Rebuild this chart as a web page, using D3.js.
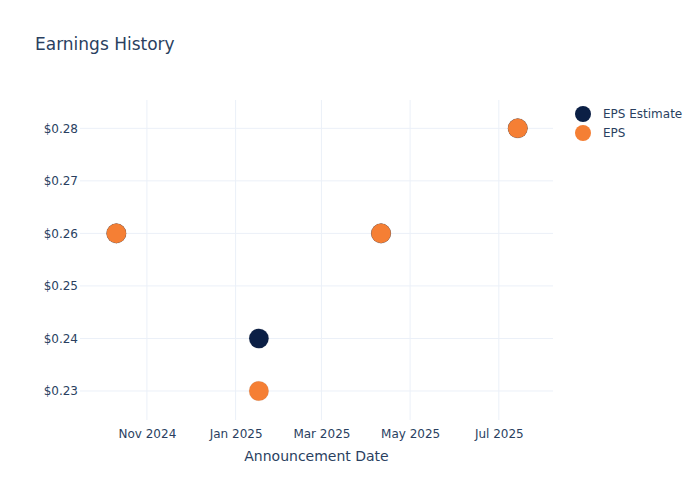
<!DOCTYPE html>
<html>
<head>
<meta charset="utf-8">
<script src="https://cdn.jsdelivr.net/npm/d3@7"></script>
<style>
  html, body { margin: 0; padding: 0; background: #fff; }
  svg { display: block; font-family: "DejaVu Sans", "Open Sans", sans-serif; }
</style>
</head>
<body>
<svg id="chart" width="700" height="500"></svg>
<script>
const dates = ["2024-10-11", "2025-01-17", "2025-04-11", "2025-07-14"];
const epsEstimate = [0.26, 0.24, 0.26, 0.28];
const epsActual = [0.26, 0.23, 0.26, 0.28];
const yTicks = [0.23, 0.24, 0.25, 0.26, 0.27, 0.28];
const xTicks = ["2024-11-01", "2025-01-01", "2025-03-01", "2025-05-01", "2025-07-01"];
const seriesNames = ["EPS Estimate", "EPS"];
const seriesColors = ["#0b1f45", "#f57f34"];

const W = 700, H = 500;
const m = { l: 80, r: 147, t: 100, b: 80 };
const svg = d3.select("#chart");
const textColor = "#2a3f5f";
const gridColor = "#ebf0f8";

const parse = d3.utcParse("%Y-%m-%d");
const x = d3.scaleUtc()
  .domain([parse("2024-09-16"), new Date(Date.UTC(2025, 7, 7, 6))])
  .range([m.l, W - m.r]);
const y = d3.scaleLinear()
  .domain([0.22448, 0.28539])
  .range([H - m.b, m.t]);

// gridlines
const grid = svg.append("g");
grid.selectAll("line.v").data(xTicks).join("line")
  .attr("x1", d => x(parse(d))).attr("x2", d => x(parse(d)))
  .attr("y1", m.t).attr("y2", H - m.b)
  .attr("stroke", gridColor).attr("stroke-width", 1);
grid.selectAll("line.h").data(yTicks).join("line")
  .attr("x1", m.l).attr("x2", W - m.r)
  .attr("y1", d => y(d)).attr("y2", d => y(d))
  .attr("stroke", gridColor).attr("stroke-width", 1);

// axes
const xAxis = d3.axisBottom(x)
  .tickValues(xTicks.map(parse))
  .tickFormat(d3.utcFormat("%b %Y"))
  .tickSize(0).tickPadding(9);
const gx = svg.append("g").attr("transform", `translate(0,${H - m.b})`).call(xAxis);
gx.select(".domain").remove();
gx.selectAll("text").attr("fill", textColor).attr("font-size", 12)
  .attr("font-family", "DejaVu Sans, sans-serif");

const yAxis = d3.axisLeft(y)
  .tickValues(yTicks)
  .tickFormat(d => "$" + d3.format(".2f")(d))
  .tickSize(0).tickPadding(2);
const gy = svg.append("g").attr("transform", `translate(${m.l},0)`).call(yAxis);
gy.select(".domain").remove();
gy.selectAll("text").attr("fill", textColor).attr("font-size", 12)
  .attr("font-family", "DejaVu Sans, sans-serif");

// axis title
svg.append("text")
  .attr("x", (m.l + W - m.r) / 2).attr("y", 461)
  .attr("text-anchor", "middle")
  .attr("fill", textColor).attr("font-size", 14)
  .text("Announcement Date");

// title
svg.append("text")
  .attr("x", 35).attr("y", 50)
  .attr("fill", textColor).attr("font-size", 17)
  .text("Earnings History");

// points
const series = [epsEstimate, epsActual];
series.forEach((vals, si) => {
  svg.append("g").selectAll("circle")
    .data(vals.map((v, i) => ({ d: parse(dates[i]), v })))
    .join("circle")
    .attr("cx", p => x(p.d))
    .attr("cy", p => y(p.v))
    .attr("r", 9.8)
    .attr("fill", seriesColors[si])
    .attr("stroke", "rgba(90,90,90,0.2)")
    .attr("stroke-width", 0.5);
});

// legend
const lg = svg.append("g");
seriesNames.forEach((name, i) => {
  const cy = 114 + i * 19;
  lg.append("circle").attr("cx", 583).attr("cy", cy).attr("r", 8)
    .attr("fill", seriesColors[i]);
  lg.append("text").attr("x", 603).attr("y", cy + 4)
    .attr("fill", textColor).attr("font-size", 12).text(name);
});
</script>
</body>
</html>
